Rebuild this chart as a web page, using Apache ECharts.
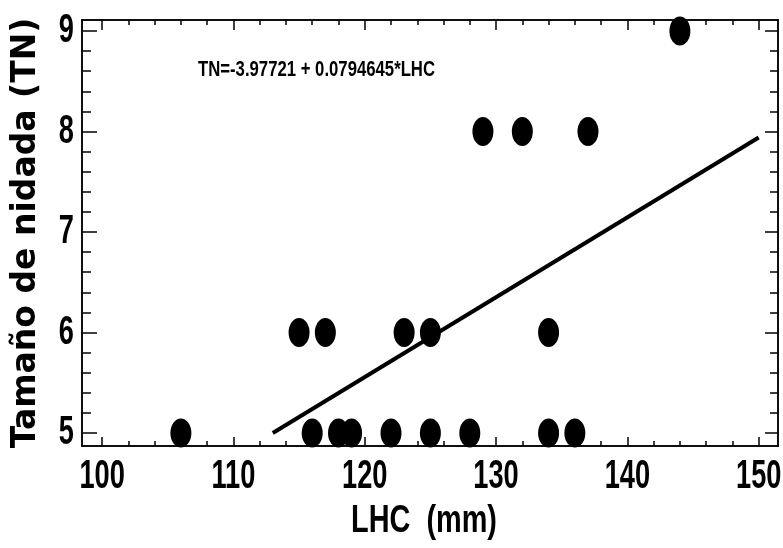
<!DOCTYPE html>
<html>
<head>
<meta charset="utf-8">
<title>TN vs LHC</title>
<script src="https://cdn.jsdelivr.net/npm/echarts@6/dist/echarts.min.js"></script>
<style>
  html, body { margin: 0; padding: 0; background: #fff; }
  #chart { width: 783px; height: 548px; }
</style>
</head>
<body>
<div id="chart"></div>
<script type="text/javascript">
	// datos
	var lhc = [106, 116, 118, 119, 122, 125, 128, 134, 136, 115, 117, 123, 125, 134, 129, 132, 137, 144];
	var tn  = [5, 5, 5, 5, 5, 5, 5, 5, 5, 6, 6, 6, 6, 6, 8, 8, 8, 9];
	// recta de regresion (extremos)
	var fitX = [113, 150];
	var fitY = [5.00, 7.94];
	var intercept = "-3.97721";
	var slope = "0.0794645";
	// ticks
	var xMajor = [100, 110, 120, 130, 140, 150];
	var xMinor = [100, 102, 104, 106, 108, 110, 112, 114, 116, 118, 120, 122, 124, 126, 128, 130, 132, 134, 136, 138, 140, 142, 144, 146, 148, 150];
	var yMajor = [5, 6, 7, 8, 9];
	var yMinor = [5, 5.2, 5.4, 5.6, 5.8, 6, 6.2, 6.4, 6.6, 6.8, 7, 7.2, 7.4, 7.6, 7.8, 8, 8.2, 8.4, 8.6, 8.8, 9];

	var arial = "'Liberation Sans', Arial, sans-serif";
	var xMin = 98.47, xMax = 151.47, yMin = 4.871, yMax = 9.109;

	var points = [];
	for (var i = 0; i < lhc.length; i++) points.push([lhc[i], tn[i]]);
	var fitLine = [];
	for (var j = 0; j < fitX.length; j++) fitLine.push([fitX[j], fitY[j]]);

	function xAx(pos, ticks, len) {
		return {
			type: 'value', position: pos, min: xMin, max: xMax,
			axisLine: { show: true, lineStyle: { color: '#000', width: 1.5 } },
			axisTick: { show: true, inside: true, length: len, customValues: ticks, lineStyle: { color: '#000', width: 1.5 } },
			axisLabel: { show: false },
			splitLine: { show: false }
		};
	}
	function yAx(pos, ticks, len) {
		return {
			type: 'value', position: pos, min: yMin, max: yMax,
			axisLine: { show: true, lineStyle: { color: '#000', width: 1.5 } },
			axisTick: { show: true, inside: true, length: len, customValues: ticks, lineStyle: { color: '#000', width: 1.5 } },
			axisLabel: { show: false },
			splitLine: { show: false }
		};
	}

	var xAxes = [xAx('bottom', xMajor, 9), xAx('bottom', xMinor, 5), xAx('top', xMajor, 10), xAx('top', xMinor, 5)];
	var yAxes = [yAx('left', yMajor, 15), yAx('left', yMinor, 9), yAx('right', yMajor, 13), yAx('right', yMinor, 8)];
	yAxes[0].name = 'Tamaño de nidada (TN)';
	yAxes[0].nameLocation = 'middle';
	yAxes[0].nameGap = 39;
	yAxes[0].nameTextStyle = { color: '#000', fontFamily: "'DejaVu Sans', sans-serif", fontWeight: 'bold', fontSize: 33 };

	var option = {
		animation: false,
		backgroundColor: '#fff',
		grid: { left: 82, right: 5, top: 20, bottom: 102, outerBoundsMode: 'none' },
		xAxis: xAxes,
		yAxis: yAxes,
		series: [
			{
				type: 'scatter', xAxisIndex: 0, yAxisIndex: 0,
				data: points, symbol: 'circle', symbolSize: [21, 29],
				itemStyle: { color: '#000', opacity: 1 }
			},
			{
				type: 'line', xAxisIndex: 0, yAxisIndex: 0,
				data: fitLine, showSymbol: false, symbol: 'none',
				lineStyle: { color: '#000', width: 4 }, z: 3
			}
		]
	};

	var myChart = echarts.init(document.getElementById('chart'));
	myChart.setOption(option);

	// etiquetas estrechas (texto alto y angosto como en el original)
	function tallText(x, y, txt, size, sx, align) {
		return {
			type: 'text', x: x, y: y, scaleX: sx, scaleY: 1,
			style: { text: txt, fill: '#000', fontFamily: arial, fontWeight: 'bold', fontSize: size,
				align: align, verticalAlign: 'middle' }
		};
	}
	var g = [];
	for (var a = 0; a < xMajor.length; a++) {
		var px = myChart.convertToPixel({ xAxisIndex: 0 }, xMajor[a]);
		g.push(tallText(px, 477, String(xMajor[a]), 40, 0.68, 'center'));
	}
	for (var b = 0; b < yMajor.length; b++) {
		var py = myChart.convertToPixel({ yAxisIndex: 0 }, yMajor[b]);
		g.push(tallText(74, py, String(yMajor[b]), 40, 0.68, 'right'));
	}
	g.push(tallText(424, 521, 'LHC  (mm)', 39, 0.74, 'center'));
	g.push(tallText(198, 70, 'TN=' + intercept + ' + ' + slope + '*LHC', 22, 0.76, 'left'));
	myChart.setOption({ graphic: g });
</script>
</body>
</html>
